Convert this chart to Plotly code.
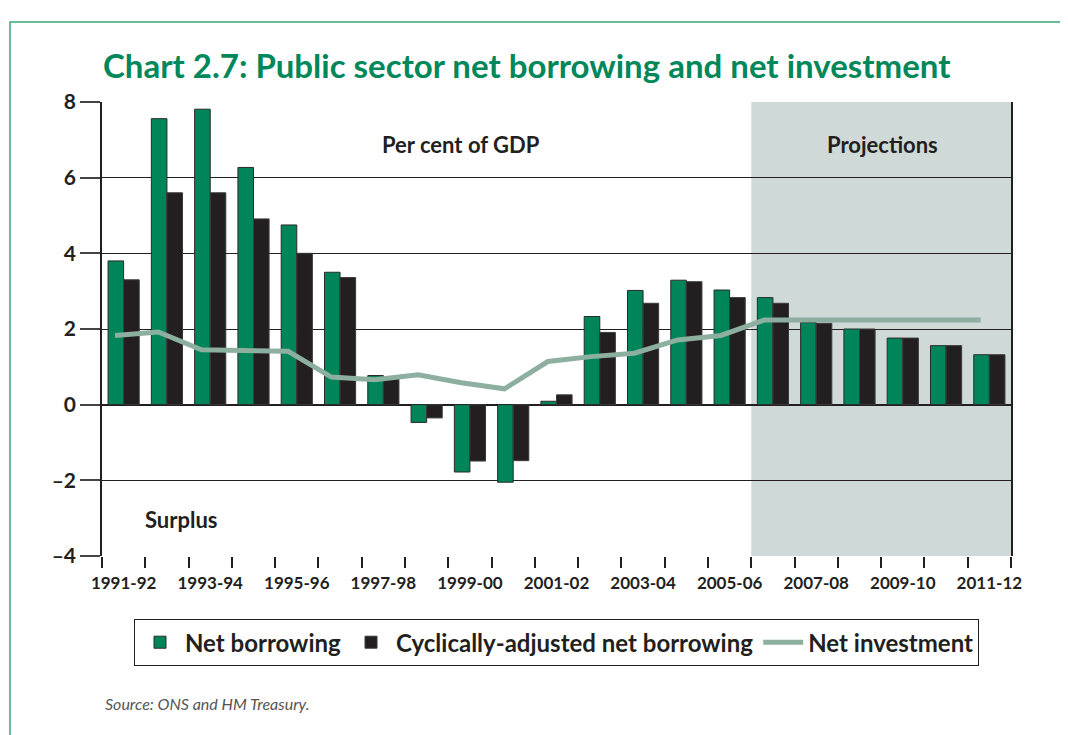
import plotly.graph_objects as go

categories = ["1991-92", "1992-93", "1993-94", "1994-95", "1995-96", "1996-97", "1997-98",
              "1998-99", "1999-00", "2000-01", "2001-02", "2002-03", "2003-04", "2004-05",
              "2005-06", "2006-07", "2007-08", "2008-09", "2009-10", "2010-11", "2011-12"]
net_borrowing = [3.80, 7.56, 7.81, 6.27, 4.75, 3.50, 0.77, -0.47, -1.78, -2.05, 0.09,
                 2.33, 3.02, 3.29, 3.03, 2.83, 2.17, 2.00, 1.76, 1.56, 1.32]
ca_borrowing = [3.30, 5.60, 5.60, 4.91, 4.00, 3.36, 0.71, -0.35, -1.49, -1.48, 0.26,
                1.91, 2.68, 3.25, 2.83, 2.68, 2.15, 2.00, 1.76, 1.56, 1.32]
net_investment = [1.83, 1.92, 1.45, 1.44, 1.41, 0.73, 0.66, 0.79, 0.58, 0.42, 1.14,
                  1.27, 1.36, 1.71, 1.83, 2.24, 2.24, 2.24, 2.24, 2.24, 2.24]
projection_start = "2006-07"
y_tickvals = [-4, -2, 0, 2, 4, 6, 8]
y_ticktext = ["\u20134", "\u20132", "0", "2", "4", "6", "8"]

FONT = "Lato, sans-serif"
GREEN = "#00845A"
BLACK = "#231F20"
LINE = "#8CAF9F"
SHADE = "#CED9D8"
TXT = "#231F20"

idx = list(range(len(categories)))
line_offset = -0.2

fig = go.Figure()
fig.add_trace(go.Bar(x=idx, y=net_borrowing, name="Net borrowing",
                     marker=dict(color=GREEN, line=dict(color="#2a2a2a", width=1))))
fig.add_trace(go.Bar(x=idx, y=ca_borrowing, name="Cyclically-adjusted net borrowing",
                     marker=dict(color=BLACK, line=dict(color="#3a3a3a", width=1))))
fig.add_trace(go.Scatter(x=[i + line_offset for i in idx], y=net_investment, name="Net investment",
                         mode="lines", line=dict(color=LINE, width=5)))

p0 = categories.index(projection_start) - 0.5
fig.add_shape(type="rect", xref="x", yref="paper", x0=p0, x1=len(categories) - 0.5,
              y0=0, y1=1, fillcolor=SHADE, line=dict(width=0), layer="below")

# outer green frame
fig.add_shape(type="rect", xref="paper", yref="paper", x0=-0.1012, x1=1.0594, y0=-0.45, y1=1.1762,
              line=dict(color="#3AA876", width=1.5), fillcolor="rgba(0,0,0,0)")

ann_font = dict(size=22, color=TXT, family=FONT)
fig.add_annotation(text="<b>Per cent of GDP</b>", xref="paper", yref="paper", x=0.395, y=0.907,
                   xanchor="center", yanchor="middle", showarrow=False, font=ann_font)
fig.add_annotation(text="<b>Projections</b>", xref="paper", yref="paper", x=0.859, y=0.907,
                   xanchor="center", yanchor="middle", showarrow=False, font=ann_font)
fig.add_annotation(text="<b>Surplus</b>", xref="paper", yref="paper", x=0.087, y=0.081,
                   xanchor="center", yanchor="middle", showarrow=False, font=ann_font)
fig.add_annotation(text="<i>Source: ONS and HM Treasury.</i>", xref="paper", yref="paper",
                   x=0.001, y=-0.324, xanchor="left", yanchor="middle", showarrow=False,
                   font=dict(size=16, color="#555555", family=FONT))

fig.update_layout(
    width=1060, height=727,
    margin=dict(l=94, r=57, t=94, b=179, autoexpand=False),
    paper_bgcolor="white", plot_bgcolor="white",
    barmode="group", bargap=0.28, bargroupgap=0,
    title=dict(text="<b>Chart 2.7: Public sector net borrowing and net investment</b>",
               x=0.0896, xanchor="left", y=0.920, yanchor="middle", xref="container", yref="container",
               font=dict(size=33, color="#00875A", family=FONT)),
    legend=dict(orientation="h", x=0.5, xanchor="center", y=-0.139, yanchor="top",
                bordercolor=BLACK, borderwidth=1, bgcolor="white",
                font=dict(size=24, color=TXT, family=FONT, weight="bold"),
                itemwidth=40, traceorder="normal"),
    showlegend=True,
)
fig.update_xaxes(range=[-0.5, len(categories) - 0.5], tickmode="array",
                 tickvals=idx[::2], ticktext=categories[::2],
                 ticks="outside", ticklen=12, tickcolor="rgba(0,0,0,0)",
                 minor=dict(ticks="outside", tick0=-0.5, dtick=1, ticklen=11, tickcolor=BLACK,
                            tickwidth=1.5, showgrid=False),
                 showgrid=False, zeroline=False, showline=False,
                 tickfont=dict(size=17, color=TXT, family=FONT, weight="bold"))
fig.update_yaxes(range=[-4, 8], tickmode="array", tickvals=y_tickvals, ticktext=y_ticktext,
                 ticks="outside", ticklen=20, tickcolor="#444", tickwidth=1.5,
                 showgrid=True, gridcolor=BLACK, gridwidth=1,
                 zeroline=True, zerolinecolor=BLACK, zerolinewidth=1.5,
                 showline=True, linecolor=BLACK, linewidth=1.5, mirror=True,
                 tickfont=dict(size=21, color=TXT, family=FONT, weight="bold"))

fig.write_html("out.html")
